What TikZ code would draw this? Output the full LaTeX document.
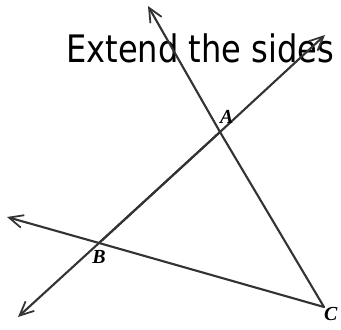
\documentclass[tikz,border=0pt]{standalone}
\usepackage{fontspec}
\newfontfamily\titlefont{DejaVu Sans}
\newfontfamily\pointfont{Liberation Serif}
\usetikzlibrary{arrows.meta}
\usetikzlibrary{positioning}
\tikzset{
ray/.style={
	draw=black!80,
	line width=1.8pt,
	line cap=round,
	line join=round
},
raytip/.style={
	-{Straight Barb[length=12pt,width=11pt,line width=1.5pt]}
},
ptlabel/.style={
	font=\pointfont\fontsize{17}{17}\selectfont\bfseries\itshape,
	inner sep=0pt
},
titletext/.style={
	font=\titlefont\fontsize{27.4}{28}\selectfont,
	inner sep=0pt
}
}

\begin{document}
\begin{tikzpicture}[x=0.03cm, y=-0.03cm]

\useasboundingbox (0,0) rectangle (341,329);
\clip (0,0) rectangle (341,329);

\node (title) [titletext, anchor=base west] at (66,62) {\scalebox{1}[1.18]{Extend the sides}};

% triangle corners
\coordinate (A) at (220,132);
\coordinate (B) at (99,243);
\coordinate (C) at (324,307);

% free ends of the extended sides
\coordinate (endCA) at (148,6);
\coordinate (endBA) at (325,35);
\coordinate (endAB) at (18,317);
\coordinate (endCB) at (7,217);

\draw[ray, raytip] (C) -- (A) -- (endCA);
\draw[ray, raytip] (B) -- (A) -- (endBA);
\draw[ray, raytip] (A) -- (B) -- (endAB);
\draw[ray, raytip] (C) -- (B) -- (endCB);

\node (labA) [ptlabel, above right=7pt and 0pt of A] {A};
\node (labB) [ptlabel, below=6pt of B] {B};
\node (labC) [ptlabel, below right=0pt and 0pt of C] {C};

\end{tikzpicture}
\end{document}
